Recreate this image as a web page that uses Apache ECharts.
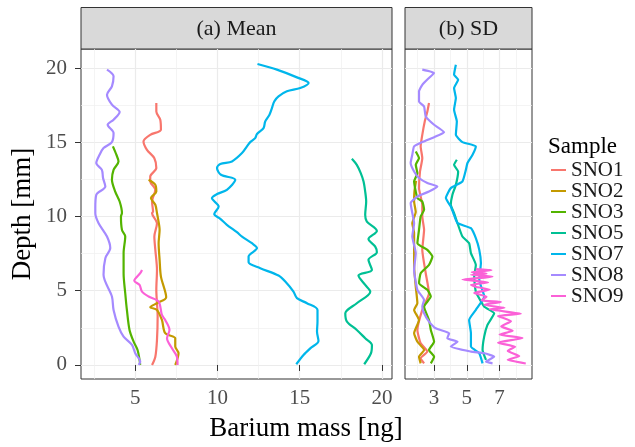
<!DOCTYPE html>
<html><head><meta charset="utf-8">
<script src="https://cdn.jsdelivr.net/npm/echarts@6/dist/echarts.min.js"></script>
<style>html,body{margin:0;padding:0;background:#fff}#c{width:635px;height:447px}</style>
</head><body><div id="c"></div><script>
const samples = ['SNO1','SNO2','SNO3','SNO5','SNO7','SNO8','SNO9'];
const colors = ['#F8766D','#C49A00','#53B400','#00C094','#00B6EB','#A58AFF','#FB61D7'];
const panelTitles = ['(a) Mean','(b) SD'];
const xTitle = 'Barium mass [ng]';
const yTitle = 'Depth [mm]';
const legendTitle = 'Sample';
const meanTicks = [5,10,15,20];
const meanMinor = [2.5,7.5,12.5,17.5];
const sdTicks = [3,5,7];
const sdMinor = [2,4,6,8];
const depthTicks = [0,5,10,15,20];
const depthMinor = [2.5,7.5,12.5,17.5];

// [mass, depth]
const sno1Mean = [[6.28,17.64],[6.28,17.07],[6.52,16.52],[6.56,15.84],[5.91,15.5],[5.5,15.05],[5.71,14.49],[6.16,13.93],[6.28,13.26],[5.91,12.69],[5.91,12.36],[6.22,11.8],[6.02,11.01],[6.08,10.33],[6.02,10.22],[6.32,9.55],[6.16,8.65],[6.22,7.75],[6.32,6.4],[6.28,5.06],[6.36,3.26],[6.32,1.69],[6.22,0.56],[6.02,0.0]];
const sno2Mean = [[5.81,12.47],[6.22,12.13],[6.28,11.68],[5.95,11.24],[6.22,10.79],[6.32,10.23],[6.36,10.0],[6.48,9.1],[6.42,8.2],[6.48,7.08],[6.56,5.95],[6.88,4.56],[6.32,4.16],[5.91,3.89],[6.32,3.71],[6.62,3.03],[6.82,2.14],[7.43,1.8],[7.43,1.24],[7.63,0.79],[7.43,0.0]];
const sno3Mean = [[3.64,14.72],[3.85,14.16],[3.98,13.71],[3.68,13.14],[3.58,12.47],[3.78,11.68],[4.05,11.01],[4.19,10.23],[4.13,10.0],[4.19,9.1],[4.39,8.65],[4.29,7.53],[4.29,6.18],[4.39,4.83],[4.49,3.71],[4.65,2.36],[4.9,1.57],[5.14,1.01],[5.26,0.34],[5.3,0.0]];
const sno5Mean = [[18.17,13.89],[18.47,13.48],[18.71,12.92],[18.88,12.36],[18.98,11.68],[19.04,11.01],[18.98,10.11],[19.08,9.66],[19.69,9.03],[19.18,8.49],[19.59,7.97],[19.69,7.6],[19.18,7.08],[19.39,6.4],[18.57,6.02],[18.98,5.39],[19.29,4.94],[18.47,4.16],[17.77,3.48],[17.87,2.92],[18.47,2.36],[18.98,1.8],[19.39,1.35],[19.33,0.79],[18.92,0.05]];
const sno7Mean = [[12.43,20.27],[13.61,19.89],[14.83,19.37],[15.54,18.99],[15.03,18.65],[14.22,18.43],[13.71,18.09],[13.45,17.75],[13.31,17.3],[13.16,16.85],[12.9,16.4],[12.8,15.95],[12.4,15.55],[12.29,15.28],[11.99,15.01],[11.79,14.72],[11.49,14.27],[10.88,13.71],[10.17,13.53],[9.97,13.26],[10.21,12.81],[11.08,12.47],[10.57,11.8],[9.97,11.51],[9.66,11.24],[10.07,10.67],[9.8,10.16],[10.17,9.84],[10.57,9.44],[11.18,8.94],[11.49,8.65],[12.09,8.2],[12.4,7.87],[11.89,7.3],[11.89,6.92],[12.6,6.52],[13.71,6.02],[14.12,5.62],[14.62,4.94],[14.83,4.5],[15.44,4.16],[16.08,3.71],[16.08,2.92],[16.05,2.25],[16.14,1.62],[15.64,1.12],[15.23,0.67],[14.79,0.05]];
const sno8Mean = [[3.28,19.89],[3.68,19.44],[3.58,18.76],[3.28,18.2],[3.58,17.53],[4.05,17.03],[3.68,16.52],[3.32,16.18],[3.68,15.62],[3.58,15.01],[3.07,14.61],[2.83,14.16],[2.63,13.6],[2.97,13.14],[3.04,12.59],[3.18,12.02],[2.63,11.46],[2.57,10.56],[2.57,10.22],[2.77,9.55],[3.28,8.65],[3.48,7.87],[3.18,7.19],[3.07,6.07],[3.58,4.61],[3.68,3.71],[3.98,2.58],[4.29,1.91],[4.8,1.35],[5.0,0.79],[5.3,0.22],[5.2,0.0]];
const sno9Mean = [[5.41,6.4],[5.3,6.18],[4.94,5.68],[5.26,5.39],[5.41,4.94],[5.81,4.61],[6.42,4.27],[6.62,3.37],[6.82,3.03],[7.08,2.36],[6.93,1.8],[7.23,1.12],[7.53,0.56],[7.57,0.0]];

const sno1Sd = [[2.69,17.64],[2.59,17.07],[2.43,16.4],[2.28,15.5],[2.18,14.72],[2.28,13.93],[2.14,13.03],[2.08,11.91],[2.28,10.79],[2.28,10.0],[2.39,9.1],[2.28,7.75],[2.49,6.18],[2.69,4.83],[2.28,3.71],[1.98,2.36],[2.18,1.46],[2.59,0.9],[2.18,0.45],[2.39,0.11]];
const sno2Sd = [[1.9,12.4],[1.8,11.7],[1.78,11.01],[1.88,10.3],[1.67,9.55],[1.78,8.88],[1.78,7.75],[1.78,6.63],[1.88,5.28],[1.98,4.16],[1.78,3.71],[2.08,3.03],[1.78,2.14],[1.98,1.57],[2.39,1.01],[2.08,0.56],[2.18,0.11]];
const sno3Sd = [[1.88,14.38],[2.08,13.93],[1.88,13.48],[1.98,12.92],[1.78,12.36],[1.88,11.68],[1.98,11.24],[2.28,11.01],[2.39,10.45],[2.18,10.0],[2.08,9.1],[1.98,8.2],[2.59,7.75],[2.9,7.3],[2.69,6.74],[2.18,6.18],[2.08,5.51],[2.59,5.06],[2.8,4.61],[2.39,3.93],[2.69,3.03],[2.8,2.36],[3.0,1.57],[2.69,1.01],[3.0,0.56],[2.8,0.11]];
const sno5Sd = [[4.39,13.82],[4.22,13.48],[4.47,13.03],[4.33,12.13],[4.12,11.46],[4.02,10.79],[4.22,10.23],[4.43,9.55],[4.73,8.65],[5.14,8.2],[5.25,7.53],[5.55,6.74],[5.45,5.95],[5.55,4.94],[6.06,3.93],[6.67,3.48],[6.26,2.7],[6.06,1.91],[5.96,1.01],[6.17,0.34]];
const sno7Sd = [[4.33,20.22],[4.22,19.55],[4.47,19.21],[4.22,18.65],[4.33,17.98],[4.22,17.19],[4.39,16.4],[4.33,15.5],[4.73,15.01],[5.55,14.72],[5.35,14.16],[5.04,13.6],[4.94,13.14],[4.73,12.36],[4.02,11.91],[3.72,11.24],[4.02,10.67],[4.18,10.22],[4.43,9.55],[5.25,9.21],[5.55,8.54],[5.76,7.75],[5.86,6.86],[5.76,5.73],[6.06,4.61],[5.55,3.71],[5.14,3.03],[5.25,2.14],[5.25,1.24],[5.76,0.79],[5.96,0.11]];
const sno8Sd = [[2.28,19.89],[3.0,19.66],[2.69,19.33],[2.28,18.87],[2.08,18.43],[2.08,17.75],[2.39,17.41],[2.49,16.74],[3.0,16.18],[3.61,15.68],[3.1,15.39],[2.28,15.01],[1.78,14.72],[1.67,14.16],[1.57,13.6],[1.78,13.03],[2.08,12.59],[2.59,12.25],[3.2,12.02],[2.69,11.68],[1.98,11.35],[1.57,10.9],[1.67,10.23],[1.78,9.55],[1.67,8.65],[1.88,7.53],[1.78,6.4],[1.98,5.06],[2.39,4.38],[2.28,3.93],[2.39,3.48],[2.69,2.92],[3.1,2.47],[3.92,2.14],[3.81,1.8],[4.43,1.57],[4.02,1.24],[5.25,0.9],[6.06,0.79],[6.67,0.56],[6.17,0.22],[6.57,0.11]];
const sno9Sd = [[5.55,6.45],[6.5,6.38],[5.3,6.25],[6.2,6.15],[5.25,6.07],[6.57,5.95],[4.73,5.75],[5.9,5.62],[6.3,5.55],[5.25,5.4],[5.6,5.25],[6.4,5.08],[5.45,4.85],[6.2,4.6],[5.9,4.35],[7.08,4.25],[6.06,4.05],[7.3,3.85],[6.4,3.75],[8.3,3.45],[6.9,3.3],[7.7,2.95],[7.1,2.6],[7.8,2.3],[7.0,2.05],[8.4,1.82],[6.9,1.5],[7.95,1.22],[7.5,0.95],[8.2,0.6],[7.5,0.35],[8.6,0.1]];

const meanData = [sno1Mean, sno2Mean, sno3Mean, sno5Mean, sno7Mean, sno8Mean, sno9Mean];
const sdData = [sno1Sd, sno2Sd, sno3Sd, sno5Sd, sno7Sd, sno8Sd, sno9Sd];

const FONT = 'Liberation Serif';
const G0 = {left: 81, top: 49, width: 311, height: 330};
const G1 = {left: 405, top: 49, width: 127, height: 330};
const xExt0 = [1.70, 20.61];
const xExt1 = [1.224, 8.98];
const yExt = [-0.944, 21.28];

function mainAxis(grid, ext, ticks, showLabel, margin) {
  return {
    type: 'value', gridIndex: grid, min: ext[0], max: ext[1],
    axisLine: {show: false},
    axisTick: {show: showLabel, length: 6, lineStyle: {color: '#333', width: 1}, customValues: ticks},
    axisLabel: {show: showLabel, customValues: ticks, margin: margin, color: '#4D4D4D', fontFamily: FONT, fontSize: 21},
    splitLine: {show: true, lineStyle: {color: '#EBEBEB', width: 1.2}},
    minorTick: {show: false}, minorSplitLine: {show: false}
  };
}
function minorAxis(grid, ext, ticks) {
  return {
    type: 'value', gridIndex: grid, min: ext[0], max: ext[1],
    axisLine: {show: false},
    axisTick: {show: false, customValues: ticks},
    axisLabel: {show: false, customValues: ticks},
    splitLine: {show: true, lineStyle: {color: '#EFEFEF', width: 0.7}}
  };
}

const series = [];
samples.forEach((name, i) => {
  series.push({
    name, type: 'line', xAxisIndex: 0, yAxisIndex: 0, data: meanData[i],
    showSymbol: false, symbol: 'none', color: colors[i], smooth: 0.3,
    lineStyle: {color: colors[i], width: 2.2}, itemStyle: {color: colors[i]},
    animation: false, z: 5
  });
  series.push({
    name, type: 'line', xAxisIndex: 2, yAxisIndex: 2, data: sdData[i],
    showSymbol: false, symbol: 'none', color: colors[i], smooth: 0.15,
    lineStyle: {color: colors[i], width: 2.2}, itemStyle: {color: colors[i]},
    animation: false, z: 5
  });
});

const chart = echarts.init(document.getElementById('c'), null, {renderer: 'canvas'});
chart.setOption({
  animation: false,
  backgroundColor: '#fff',
  grid: [
    Object.assign({show: true, borderColor: '#333', borderWidth: 1, backgroundColor: 'transparent', containLabel: false}, G0),
    Object.assign({show: true, borderColor: '#333', borderWidth: 1, backgroundColor: 'transparent', containLabel: false}, G1)
  ],
  xAxis: [
    mainAxis(0, xExt0, meanTicks, true, 9),
    minorAxis(0, xExt0, meanMinor),
    mainAxis(1, xExt1, sdTicks, true, 9),
    minorAxis(1, xExt1, sdMinor)
  ],
  yAxis: [
    mainAxis(0, yExt, depthTicks, true, 14),
    minorAxis(0, yExt, depthMinor),
    mainAxis(1, yExt, depthTicks, false, 14),
    minorAxis(1, yExt, depthMinor)
  ],
  legend: {
    data: samples, orient: 'vertical', left: 551, top: 159.5, padding: 0, itemGap: 0,
    itemWidth: 15, itemHeight: 2, icon: 'rect',
    textStyle: {fontFamily: FONT, fontSize: 21, color: '#1a1a1a', lineHeight: 19}
  },
  graphic: [
    {type: 'rect', shape: {x: G0.left, y: 7.5, width: G0.width, height: 41.5}, style: {fill: '#D9D9D9', stroke: '#333', lineWidth: 1}},
    {type: 'rect', shape: {x: G1.left, y: 7.5, width: G1.width, height: 41.5}, style: {fill: '#D9D9D9', stroke: '#333', lineWidth: 1}},
    {type: 'text', x: G0.left + G0.width / 2, y: 29, style: {text: panelTitles[0], fontFamily: FONT, fontSize: 22, fill: '#1a1a1a', align: 'center', verticalAlign: 'middle'}},
    {type: 'text', x: G1.left + G1.width / 2, y: 29, style: {text: panelTitles[1], fontFamily: FONT, fontSize: 22, fill: '#1a1a1a', align: 'center', verticalAlign: 'middle'}},
    {type: 'text', x: 306, y: 429, style: {text: xTitle, fontFamily: FONT, fontSize: 27, fill: '#000', align: 'center', verticalAlign: 'middle'}},
    {type: 'text', x: 23, y: 214, rotation: Math.PI / 2, style: {text: yTitle, fontFamily: FONT, fontSize: 27, fill: '#000', align: 'center', verticalAlign: 'middle'}},
    {type: 'text', x: 548, y: 147, style: {text: legendTitle, fontFamily: FONT, fontSize: 23, fill: '#000', align: 'left', verticalAlign: 'middle'}}
  ],
  series
});
</script></body></html>
